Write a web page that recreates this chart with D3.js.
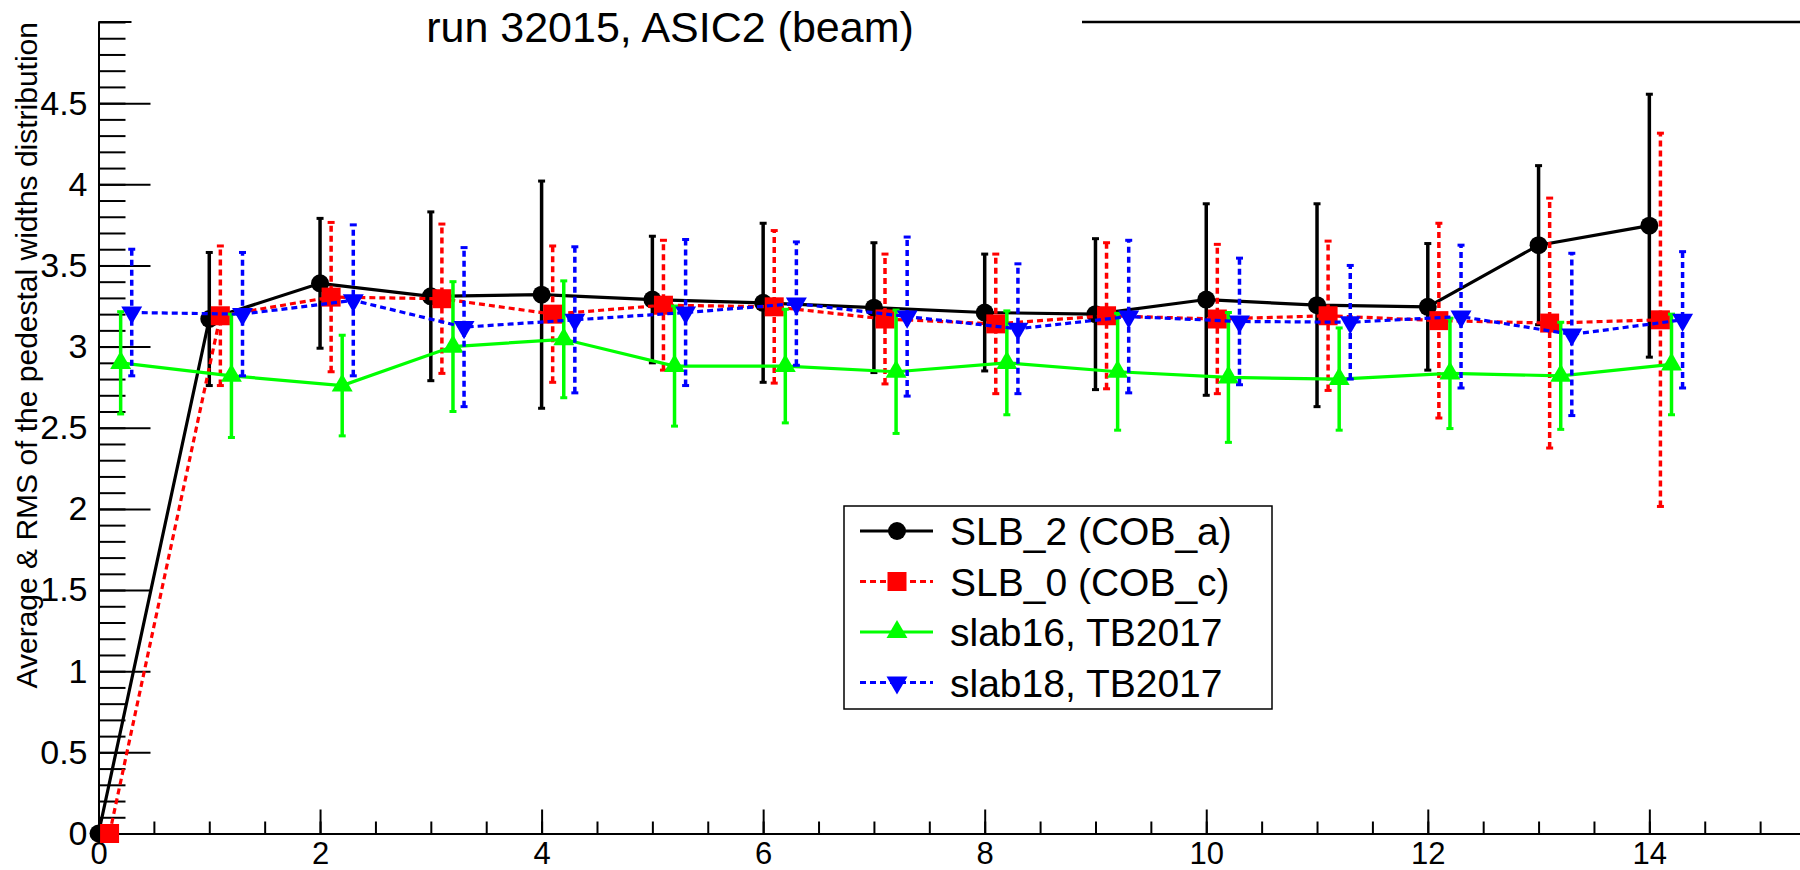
<!DOCTYPE html>
<html>
<head>
<meta charset="utf-8">
<script src="https://cdn.jsdelivr.net/npm/d3@7"></script>
<style>
  body { margin: 0; background: #fff; }
  svg { display: block; font-family: "Liberation Sans", Arial, Helvetica, sans-serif; }
</style>
</head>
<body>
<script>

// 1) DATA (read off the ROOT canvas)
let channels = [0, 1, 2, 3, 4, 5, 6, 7, 8, 9, 10, 11, 12, 13, 14];

let slb2Mean = [0, 3.17, 3.39, 3.31, 3.32, 3.29, 3.27, 3.24, 3.21, 3.20, 3.29, 3.255, 3.245, 3.625, 3.745];
let slb2Rms  = [0, 0.41, 0.40, 0.52, 0.70, 0.39, 0.49, 0.40, 0.36, 0.465, 0.59, 0.625, 0.39, 0.49, 0.81];

let slb0Mean = [0, 3.19, 3.305, 3.295, 3.20, 3.255, 3.245, 3.17, 3.14, 3.19, 3.17, 3.19, 3.16, 3.145, 3.165];
let slb0Rms  = [0, 0.43, 0.46, 0.46, 0.42, 0.40, 0.47, 0.40, 0.43, 0.45, 0.46, 0.46, 0.60, 0.77, 1.15];

let slab16Mean = [2.90, 2.82, 2.76, 3.00, 3.045, 2.88, 2.88, 2.845, 2.90, 2.845, 2.81, 2.80, 2.835, 2.82, 2.89];
let slab16Rms  = [0.315, 0.38, 0.31, 0.40, 0.36, 0.37, 0.35, 0.38, 0.32, 0.36, 0.40, 0.315, 0.34, 0.33, 0.31];

let slab18Mean = [3.21, 3.20, 3.285, 3.12, 3.165, 3.21, 3.265, 3.185, 3.11, 3.185, 3.155, 3.15, 3.185, 3.075, 3.165];
let slab18Rms  = [0.39, 0.38, 0.465, 0.49, 0.45, 0.45, 0.38, 0.49, 0.40, 0.47, 0.39, 0.35, 0.44, 0.50, 0.42];

// small shift along x so the four graphs don't sit on each other
let seriesShift = [0, 0.1, 0.2, 0.3];
let seriesNames = ["SLB_2 (COB_a)", "SLB_0 (COB_c)", "slab16, TB2017", "slab18, TB2017"];

let xTickValues = [0, 2, 4, 6, 8, 10, 12, 14];
let xTickLabels = ["0", "2", "4", "6", "8", "10", "12", "14"];
let yTickValues = [0, 0.5, 1, 1.5, 2, 2.5, 3, 3.5, 4, 4.5];
let yTickLabels = ["0", "0.5", "1", "1.5", "2", "2.5", "3", "3.5", "4", "4.5"];

let chartTitle = "run 32015, ASIC2 (beam)";
let yTitle = "Average & RMS of the pedestal widths distribution";

drawChart();


function drawChart(){

// 2) SVG + SCALES
  let width = 1800, height = 870;
  let left = 98.5, bottom = 833.5, top = 22;

  let svg = d3.select("body").append("svg")
      .attr("width", width)
      .attr("height", height);

  let x = d3.scaleLinear().domain([0, 15.36]).range([left, width]);
  let y = d3.scaleLinear().domain([0, 5]).range([bottom, top]);


// 3) AXES (ROOT style: ticks pointing inwards)
  let xMinor = svg.append("g")
      .attr("transform", `translate(0,${bottom})`)
      .call(d3.axisBottom(x).tickValues(d3.range(0.5, 15.3, 0.5)).tickSize(-12).tickSizeOuter(0).tickFormat(""));

  let xMajor = svg.append("g")
      .attr("transform", `translate(0,${bottom})`)
      .call(d3.axisBottom(x).tickValues(xTickValues).tickSize(-24).tickSizeOuter(0).tickPadding(8)
        .tickFormat((d, i) => xTickLabels[i]));

  let yMinor = svg.append("g")
      .attr("transform", `translate(${left},0)`)
      .call(d3.axisLeft(y).tickValues(d3.range(0.1, 5.01, 0.1)).tickSize(-27).tickSizeOuter(0).tickFormat(""));

  let yMajor = svg.append("g")
      .attr("transform", `translate(${left},0)`)
      .call(d3.axisLeft(y).tickValues(yTickValues).tickSize(-52).tickSizeOuter(0).tickPadding(11)
        .tickFormat((d, i) => yTickLabels[i]));

  svg.selectAll(".domain, .tick line")
      .attr("stroke", "#000")
      .attr("stroke-width", 2);

  xMajor.selectAll("text").attr("font-size", 31).attr("fill", "#000");
  yMajor.selectAll("text").attr("font-size", 34).attr("fill", "#000");

  // top of the frame, partly hidden behind the title pave
  svg.append("line")
      .attr("x1", 1082).attr("x2", width)
      .attr("y1", top).attr("y2", top)
      .attr("stroke", "#000").attr("stroke-width", 2.5);
  svg.append("line")
      .attr("x1", left).attr("x2", left + 33)
      .attr("y1", top).attr("y2", top)
      .attr("stroke", "#000").attr("stroke-width", 2);


// 4) TITLES
  svg.append("text")
      .attr("x", 670)
      .attr("y", 42)
      .attr("text-anchor", "middle")
      .attr("font-size", 43)
      .text(chartTitle);

  svg.append("text")
      .attr("transform", `translate(37,${top}) rotate(-90)`)
      .attr("text-anchor", "end")
      .attr("font-size", 30)
      .text(yTitle);


// 5) GRAPHS
  let series = [
    {mean: slb2Mean,   rms: slb2Rms,   color: "#000000", dash: null,  symbol: d3.symbolCircle,   size: 254, rotate: 0},
    {mean: slb0Mean,   rms: slb0Rms,   color: "#ff0000", dash: "6,4", symbol: d3.symbolSquare,   size: 361, rotate: 0},
    {mean: slab16Mean, rms: slab16Rms, color: "#00ff00", dash: null,  symbol: d3.symbolTriangle, size: 190, rotate: 0},
    {mean: slab18Mean, rms: slab18Rms, color: "#0000ff", dash: "6,4", symbol: d3.symbolTriangle, size: 190, rotate: 180}
  ];

  let line = d3.line()
      .x(d => x(d.x))
      .y(d => y(d.v));

  series.forEach(function(s, k){
    let pts = channels.map((c, i) => ({x: c + seriesShift[k], v: s.mean[i], e: s.rms[i]}));
    let g = svg.append("g");

    g.append("path")
        .datum(pts)
        .attr("d", line)
        .attr("fill", "none")
        .attr("stroke", s.color)
        .attr("stroke-width", 3.2)
        .attr("stroke-dasharray", s.dash);

    let withErr = pts.filter(d => d.e > 0);

    g.selectAll(".err")
        .data(withErr)
        .enter()
        .append("line")
        .attr("class", "err")
        .attr("x1", d => x(d.x)).attr("x2", d => x(d.x))
        .attr("y1", d => y(d.v - d.e)).attr("y2", d => y(d.v + d.e))
        .attr("stroke", s.color)
        .attr("stroke-width", 3.5)
        .attr("stroke-dasharray", s.dash);

    // little end caps
    g.selectAll(".cap")
        .data(withErr.flatMap(d => [d.v - d.e, d.v + d.e].map(v => ({x: d.x, v: v}))))
        .enter()
        .append("line")
        .attr("class", "cap")
        .attr("x1", d => x(d.x) - 3.5).attr("x2", d => x(d.x) + 3.5)
        .attr("y1", d => y(d.v)).attr("y2", d => y(d.v))
        .attr("stroke", s.color)
        .attr("stroke-width", 3);

    g.selectAll(".mk")
        .data(pts)
        .enter()
        .append("path")
        .attr("class", "mk")
        .attr("d", d3.symbol().type(s.symbol).size(s.size))
        .attr("transform", d => `translate(${x(d.x)},${y(d.v)}) rotate(${s.rotate})`)
        .attr("fill", s.color);
  });


// 6) LEGEND
  let legend = svg.append("g");

  legend.append("rect")
      .attr("x", 844).attr("y", 506)
      .attr("width", 428).attr("height", 203)
      .attr("fill", "#fff")
      .attr("stroke", "#000")
      .attr("stroke-width", 1.5);

  let rows = legend.selectAll(".entry")
      .data(series)
      .enter()
      .append("g")
      .attr("class", "entry")
      .attr("transform", (d, i) => `translate(0,${531 + i * 50.5})`);

  rows.append("line")
      .attr("x1", 860).attr("x2", 933)
      .attr("stroke", d => d.color)
      .attr("stroke-width", 3.2)
      .attr("stroke-dasharray", d => d.dash);

  rows.append("path")
      .attr("d", d => d3.symbol().type(d.symbol).size(d.size)())
      .attr("transform", d => `translate(897,0) rotate(${d.rotate})`)
      .attr("fill", d => d.color);

  rows.append("text")
      .attr("x", 950)
      .attr("dy", "0.36em")
      .attr("font-size", 39)
      .text((d, i) => seriesNames[i]);
}
</script>
</body>
</html>
